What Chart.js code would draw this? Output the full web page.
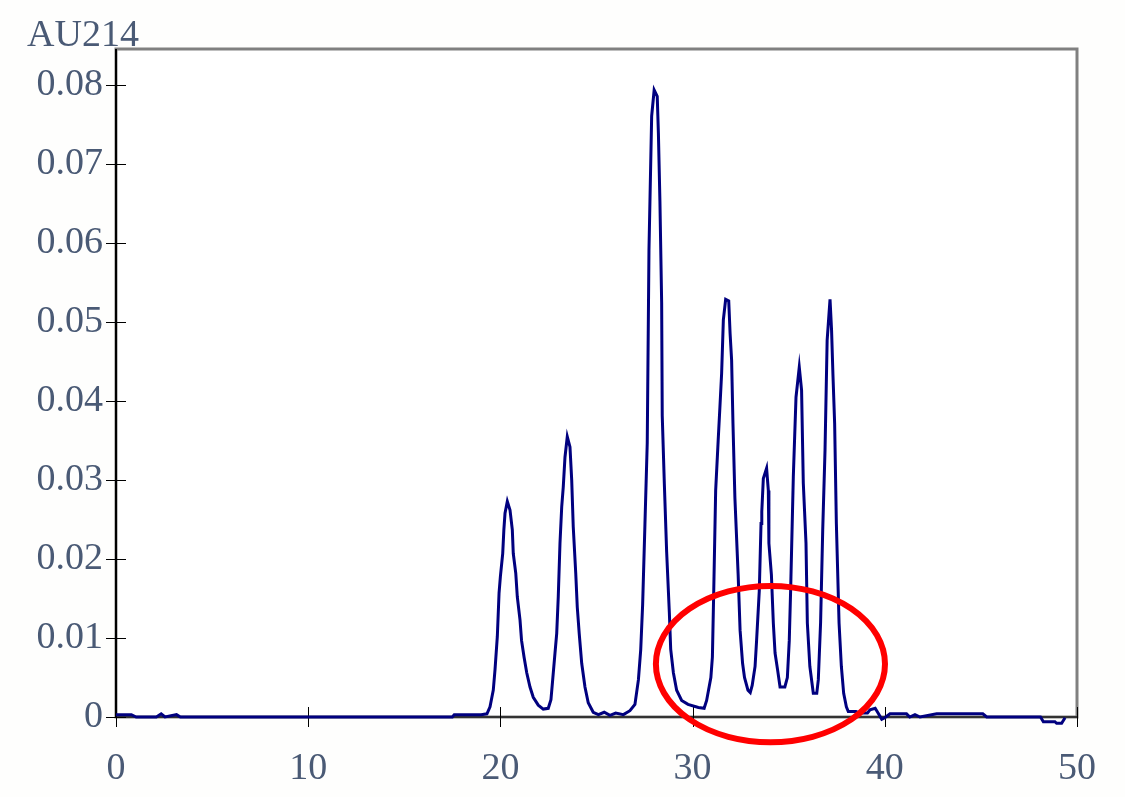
<!DOCTYPE html>
<html>
<head>
<meta charset="utf-8">
<script src="https://cdn.jsdelivr.net/npm/chart.js@4.4.1/dist/chart.umd.min.js"></script>
<style>
  html, body { margin: 0; padding: 0; background: #fefefd; }
  canvas { display: block; }
</style>
</head>
<body>
<canvas id="myChart" width="1125" height="797"></canvas>
<script>
// retention time (min) and absorbance at 214 nm
let times = [
    0, 0.8, 1.05, 2.1, 2.35, 2.55, 3.15, 3.35, 17.5, 17.6, 19.0, 19.3,
    19.46, 19.63, 19.72, 19.84, 19.93, 20.0, 20.12, 20.18, 20.24, 20.36, 20.5, 20.62,
    20.67, 20.8, 20.88, 21.02, 21.1, 21.23, 21.37, 21.54, 21.71, 21.97, 22.23, 22.49,
    22.63, 22.72, 22.84, 22.93, 23.01, 23.1, 23.19, 23.27, 23.36, 23.48, 23.62, 23.71,
    23.79, 23.92, 24.0, 24.1, 24.23, 24.4, 24.57, 24.83, 25.1, 25.4, 25.7, 26.0,
    26.4, 26.74, 27.0, 27.18, 27.3, 27.4, 27.52, 27.64, 27.73, 27.87, 28.0, 28.16,
    28.22, 28.3, 28.39, 28.42, 28.53, 28.65, 28.79, 28.86, 29.0, 29.17, 29.43, 29.76,
    30.3, 30.6, 30.73, 30.95, 31.03, 31.1, 31.2, 31.33, 31.42, 31.51, 31.6, 31.72,
    31.88, 31.95, 32.03, 32.1, 32.2, 32.37, 32.47, 32.6, 32.7, 32.88, 33.0, 33.1,
    33.25, 33.33, 33.47, 33.56, 33.6, 33.68, 33.85, 33.94, 33.97, 34.1, 34.2, 34.29,
    34.42, 34.55, 34.8, 34.93, 35.03, 35.1, 35.24, 35.38, 35.55, 35.67, 35.76, 35.9,
    35.97, 36.1, 36.28, 36.46, 36.54, 36.66, 36.77, 36.89, 37.0, 37.15, 37.23, 37.3,
    37.39, 37.48, 37.62, 37.74, 37.86, 38.0, 38.1, 38.5, 38.7, 39.1, 39.23, 39.5,
    39.65, 39.84, 40.0, 40.27, 41.13, 41.3, 41.57, 41.83, 42.7, 45.1, 45.3, 48.1,
    48.25, 48.85, 48.94, 49.2, 49.38
]
let au214 = [
    0.0003, 0.0003, 0.0, 0.0, 0.0004, 0.0, 0.0003, 0.0, 0.0, 0.0003, 0.0003, 0.0004,
    0.0013, 0.0034, 0.006, 0.0102, 0.0157, 0.0178, 0.0207, 0.0237, 0.0258, 0.0273, 0.0262, 0.0237,
    0.0207, 0.0182, 0.0152, 0.0123, 0.0097, 0.0076, 0.0056, 0.0038, 0.0025, 0.0015, 0.001, 0.0011,
    0.0022, 0.0047, 0.0081, 0.0106, 0.0152, 0.022, 0.0266, 0.0291, 0.0329, 0.0355, 0.0342, 0.03,
    0.0241, 0.0182, 0.0139, 0.0106, 0.0068, 0.0038, 0.0018, 0.0006, 0.0003, 0.0006, 0.0002, 0.0005,
    0.0003, 0.0008, 0.0016, 0.0047, 0.0085, 0.0142, 0.0244, 0.0347, 0.0591, 0.0761, 0.0794, 0.0786,
    0.074, 0.0653, 0.0525, 0.0382, 0.0295, 0.0209, 0.0132, 0.0086, 0.0056, 0.0034, 0.0021, 0.0016,
    0.0012, 0.0011, 0.0021, 0.005, 0.0076, 0.016, 0.0287, 0.035, 0.0392, 0.0435, 0.0503, 0.0529,
    0.0527, 0.0486, 0.0452, 0.0372, 0.0278, 0.018, 0.011, 0.0068, 0.005, 0.0034, 0.0031, 0.004,
    0.0064, 0.0097, 0.016, 0.0245, 0.026, 0.0302, 0.0315, 0.0287, 0.022, 0.018, 0.0119, 0.0081,
    0.006, 0.0038, 0.0038, 0.005, 0.0097, 0.016, 0.0304, 0.0405, 0.0443, 0.0414, 0.0296, 0.022,
    0.0119, 0.0064, 0.003, 0.003, 0.0047, 0.012, 0.0237, 0.0338, 0.0477, 0.0529, 0.049, 0.0435,
    0.0372, 0.0245, 0.0119, 0.0064, 0.003, 0.0013, 0.0007, 0.0007, 0.0005, 0.0005, 0.0009, 0.0011,
    0.0005, -0.0003, -0.0001, 0.0004, 0.0004, 0.0, 0.0003, 0.0, 0.0004, 0.0004, 0.0, 0.0,
    -0.0006, -0.0006, -0.0008, -0.0008, -0.0001
]
let xTicks = [0, 10, 20, 30, 40, 50]
let yTicks = [0, 0.01, 0.02, 0.03, 0.04, 0.05, 0.06, 0.07, 0.08]

// the red ring drawn on the figure, in data units
let ring = { x: 34.05, y: 0.0067, rx: 5.96, ry: 0.0099 }

let labelColor = "#4a5a75"
let labelFont = { family: "Liberation Serif", size: 38 }

let framePlugin = {
    id: "frame",
    beforeDraw(chart) {
        let { ctx, chartArea: a } = chart
        ctx.save()
        ctx.fillStyle = "#fefefd"
        ctx.fillRect(0, 0, chart.width, chart.height)
        ctx.fillStyle = "#ffffff"
        ctx.fillRect(a.left, a.top, a.right - a.left, a.bottom - a.top)
        ctx.restore()
    },
    beforeDatasetsDraw(chart) {
        let { ctx, chartArea: a, scales } = chart
        ctx.save()
        // grey box round the plot
        ctx.strokeStyle = "#808080"
        ctx.lineWidth = 3
        ctx.strokeRect(a.left, a.top, a.right - a.left, a.bottom - a.top)
        // black axes
        ctx.strokeStyle = "#000000"
        ctx.lineWidth = 2
        ctx.beginPath()
        ctx.moveTo(a.left, a.top)
        ctx.lineTo(a.left, a.bottom)
        ctx.stroke()
        ctx.strokeStyle = "#333333"
        ctx.beginPath()
        ctx.moveTo(a.left, a.bottom)
        ctx.lineTo(a.right, a.bottom)
        ctx.stroke()
        // tick marks crossing the axes
        ctx.strokeStyle = "#000000"
        ctx.lineWidth = 1
        ctx.beginPath()
        yTicks.forEach(v => {
            let py = Math.round(scales.y.getPixelForValue(v)) + 0.5
            ctx.moveTo(a.left - 10, py)
            ctx.lineTo(a.left + 10, py)
        })
        xTicks.forEach(v => {
            let px = Math.round(scales.x.getPixelForValue(v)) + 0.5
            ctx.moveTo(px, a.bottom - 10)
            ctx.lineTo(px, a.bottom + 10)
        })
        ctx.stroke()
        ctx.restore()
    },
    afterDraw(chart) {
        let { ctx, scales } = chart
        ctx.save()
        // axis caption
        ctx.fillStyle = labelColor
        ctx.font = "38px 'Liberation Serif'"
        ctx.textBaseline = "alphabetic"
        ctx.textAlign = "left"
        ctx.fillText("AU214", 27, 46)
        // red ring
        let cx = scales.x.getPixelForValue(ring.x)
        let cy = scales.y.getPixelForValue(ring.y)
        let rx = scales.x.getPixelForValue(ring.x + ring.rx) - cx
        let ry = cy - scales.y.getPixelForValue(ring.y + ring.ry)
        ctx.strokeStyle = "#ff0000"
        ctx.lineWidth = 6
        ctx.beginPath()
        ctx.ellipse(cx, cy, rx, ry, 0, 0, Math.PI * 2)
        ctx.stroke()
        ctx.restore()
    }
}

new Chart("myChart", {
    type: "line",
    data: {
        datasets: [
            {
                data: times.map((t, i) => ({ x: t, y: au214[i] })),
                borderColor: "#00007f",
                borderWidth: 3,
                pointRadius: 0,
                tension: 0,
                fill: false,
                clip: false,
            },
        ]
    },
    options: {
        responsive: false,
        animation: false,
        devicePixelRatio: 1,
        layout: { padding: { top: 49, right: 48, left: 0, bottom: 0 } },
        plugins: {
            legend: { display: false },
            tooltip: { enabled: false }
        },
        scales: {
            x: {
                type: "linear",
                min: 0,
                max: 50,
                afterFit: s => { s.height = 80 },
                grid: { display: false, drawTicks: false },
                border: { display: false },
                ticks: {
                    stepSize: 10,
                    includeBounds: false,
                    padding: 29,
                    color: labelColor,
                    font: labelFont,
                    maxRotation: 0,
                }
            },
            y: {
                min: 0,
                max: 0.0846,
                afterFit: s => { s.width = 116 },
                grid: { display: false, drawTicks: false },
                border: { display: false },
                ticks: {
                    stepSize: 0.01,
                    includeBounds: false,
                    padding: 13,
                    color: labelColor,
                    font: labelFont,
                    callback: v => v === 0 ? "0" : v.toFixed(2),
                }
            }
        }
    },
    plugins: [framePlugin]
})
</script>
</body>
</html>
